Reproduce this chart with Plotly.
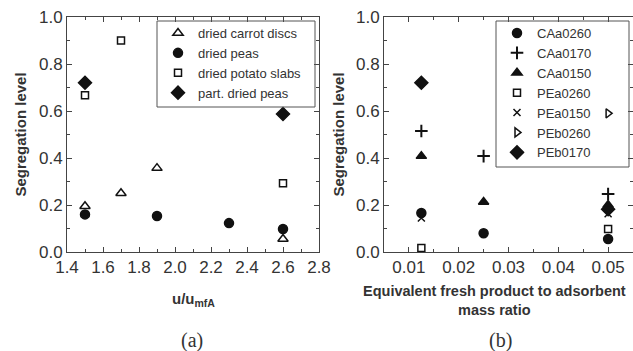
import plotly.graph_objects as go

# ---- Panel (a) data ----
carrot_x = [1.5, 1.7, 1.9, 2.6]
carrot_y = [0.195, 0.25, 0.357, 0.055]
peas_x = [1.5, 1.9, 2.3, 2.6]
peas_y = [0.16, 0.153, 0.123, 0.098]
potato_x = [1.5, 1.7, 2.6]
potato_y = [0.667, 0.90, 0.293]
partpeas_x = [1.5, 2.6]
partpeas_y = [0.72, 0.587]

# ---- Panel (b) data ----
CAa0260_x = [0.0125, 0.025, 0.05]
CAa0260_y = [0.166, 0.08, 0.055]
CAa0170_x = [0.0125, 0.025, 0.05]
CAa0170_y = [0.515, 0.408, 0.247]
CAa0150_x = [0.0125, 0.025, 0.05]
CAa0150_y = [0.408, 0.213, 0.2]
PEa0260_x = [0.0125, 0.05]
PEa0260_y = [0.017, 0.098]
PEa0150_x = [0.0125, 0.05]
PEa0150_y = [0.145, 0.163]
PEb0260_x = [0.05]
PEb0260_y = [0.59]
PEb0170_x = [0.0125, 0.05]
PEb0170_y = [0.72, 0.182]

INK = "#111111"
TXT = "#333333"
SANS = "Liberation Sans, Arial, sans-serif"
SERIF = "Liberation Serif, Times New Roman, serif"

fig = go.Figure()

def add(x, y, name, symbol, size, xa, ya, legend, rank, lw=1.5):
    fig.add_trace(go.Scatter(
        x=x, y=y, name=name, mode="markers", xaxis=xa, yaxis=ya, legend=legend,
        legendrank=rank,
        marker=dict(symbol=symbol, size=size, color=INK,
                    line=dict(color=INK, width=lw)),
    ))

add(carrot_x, carrot_y, "dried carrot discs", "triangle-up-open", 9, "x", "y", "legend", 1)
add(peas_x, peas_y, "dried peas", "circle", 9, "x", "y", "legend", 2)
add(potato_x, potato_y, "dried potato slabs", "square-open", 7, "x", "y", "legend", 3)
add(partpeas_x, partpeas_y, "part. dried peas", "diamond", 10, "x", "y", "legend", 4)

# draw order chosen so the triangle sits above the diamond at x=0.05
add(PEb0170_x, PEb0170_y, "PEb0170", "diamond", 10, "x2", "y2", "legend2", 17)
add(CAa0260_x, CAa0260_y, "CAa0260", "circle", 9, "x2", "y2", "legend2", 11)
add(CAa0170_x, CAa0170_y, "CAa0170", "cross-thin", 9, "x2", "y2", "legend2", 12, lw=2)
add(CAa0150_x, CAa0150_y, "CAa0150", "triangle-up", 9, "x2", "y2", "legend2", 13)
add(PEa0260_x, PEa0260_y, "PEa0260", "square-open", 7, "x2", "y2", "legend2", 14)
add(PEa0150_x, PEa0150_y, "PEa0150", "x-thin", 7, "x2", "y2", "legend2", 15, lw=1.5)
add(PEb0260_x, PEb0260_y, "PEb0260", "triangle-right-open", 8, "x2", "y2", "legend2", 16)

tickfont = dict(family=SANS, size=17, color=TXT)
titlefont = dict(family=SANS, size=15, color=TXT)

axis_common = dict(
    showline=True, linecolor="#444444", linewidth=1, mirror="allticks",
    ticks="inside", ticklen=5, tickwidth=1, tickcolor="#444444",
    showgrid=False, zeroline=False, tickfont=tickfont, automargin=False,
)
minor_common = dict(ticks="inside", ticklen=3, tickcolor="#444444")

ydom = [1 - 252 / 351, 1 - 17 / 351]

def ann(text, xpx, ypx, font):
    return dict(text=text, x=xpx / 633, y=1 - ypx / 351, xref="paper", yref="paper",
                xanchor="center", yanchor="middle", showarrow=False, font=font)

fig.update_layout(
    width=633, height=351,
    margin=dict(l=0, r=0, t=0, b=0),
    paper_bgcolor="white", plot_bgcolor="white",
    font=dict(family=SANS, color=TXT),
    xaxis=dict(domain=[67 / 633, 319 / 633], range=[1.4, 2.8], dtick=0.2,
               tickformat=".1f", minor=dict(dtick=0.1, **minor_common),
               anchor="y", **axis_common),
    yaxis=dict(domain=ydom, range=[0, 1.0], dtick=0.2, tickformat=".1f",
               minor=dict(dtick=0.1, **minor_common),
               title=dict(text="<b>Segregation level</b>", font=titlefont, standoff=8),
               anchor="x", **axis_common),
    xaxis2=dict(domain=[384 / 633, 1.0], range=[0.005, 0.055], dtick=0.01,
                tickformat=".2f", minor=dict(dtick=0.005, **minor_common),
                anchor="y2", **axis_common),
    yaxis2=dict(domain=ydom, range=[0, 1.0], dtick=0.2, tickformat=".1f",
                minor=dict(dtick=0.1, **minor_common),
                title=dict(text="<b>Segregation level</b>", font=titlefont, standoff=7),
                anchor="x2", **axis_common),
    legend=dict(x=158 / 633, y=1 - 18 / 351, xanchor="left", yanchor="top",
                borderwidth=0, bgcolor="rgba(0,0,0,0)",
                font=dict(size=13, color=TXT), itemwidth=30, tracegroupgap=0),
    legend2=dict(x=497 / 633, y=1 - 18 / 351, xanchor="left", yanchor="top",
                 borderwidth=0, bgcolor="rgba(0,0,0,0)",
                 font=dict(size=13, color=TXT), itemwidth=30, tracegroupgap=0),
    showlegend=True,
    annotations=[
        ann("<b>u/u<sub>mfA</sub></b>", 193, 299, dict(family=SANS, size=15, color=TXT)),
        ann("<b>Equivalent fresh product to adsorbent<br>mass ratio</b>", 494, 300,
            dict(family=SANS, size=14.5, color=TXT)),
        ann("(a)", 192, 340, dict(family=SERIF, size=20, color=TXT)),
        ann("(b)", 500, 340, dict(family=SERIF, size=20, color=TXT)),
    ],
)

# legend frames (the reference frames are wider than plotly's own legend box)
for (px0, py0, px1, py1) in [(157, 21, 315, 107), (496, 21, 629, 167)]:
    fig.add_shape(type="rect", xref="paper", yref="paper",
                  x0=px0 / 633, x1=px1 / 633, y0=1 - py1 / 351, y1=1 - py0 / 351,
                  line=dict(color="#555555", width=1), layer="above")

fig.write_html("out.html")
